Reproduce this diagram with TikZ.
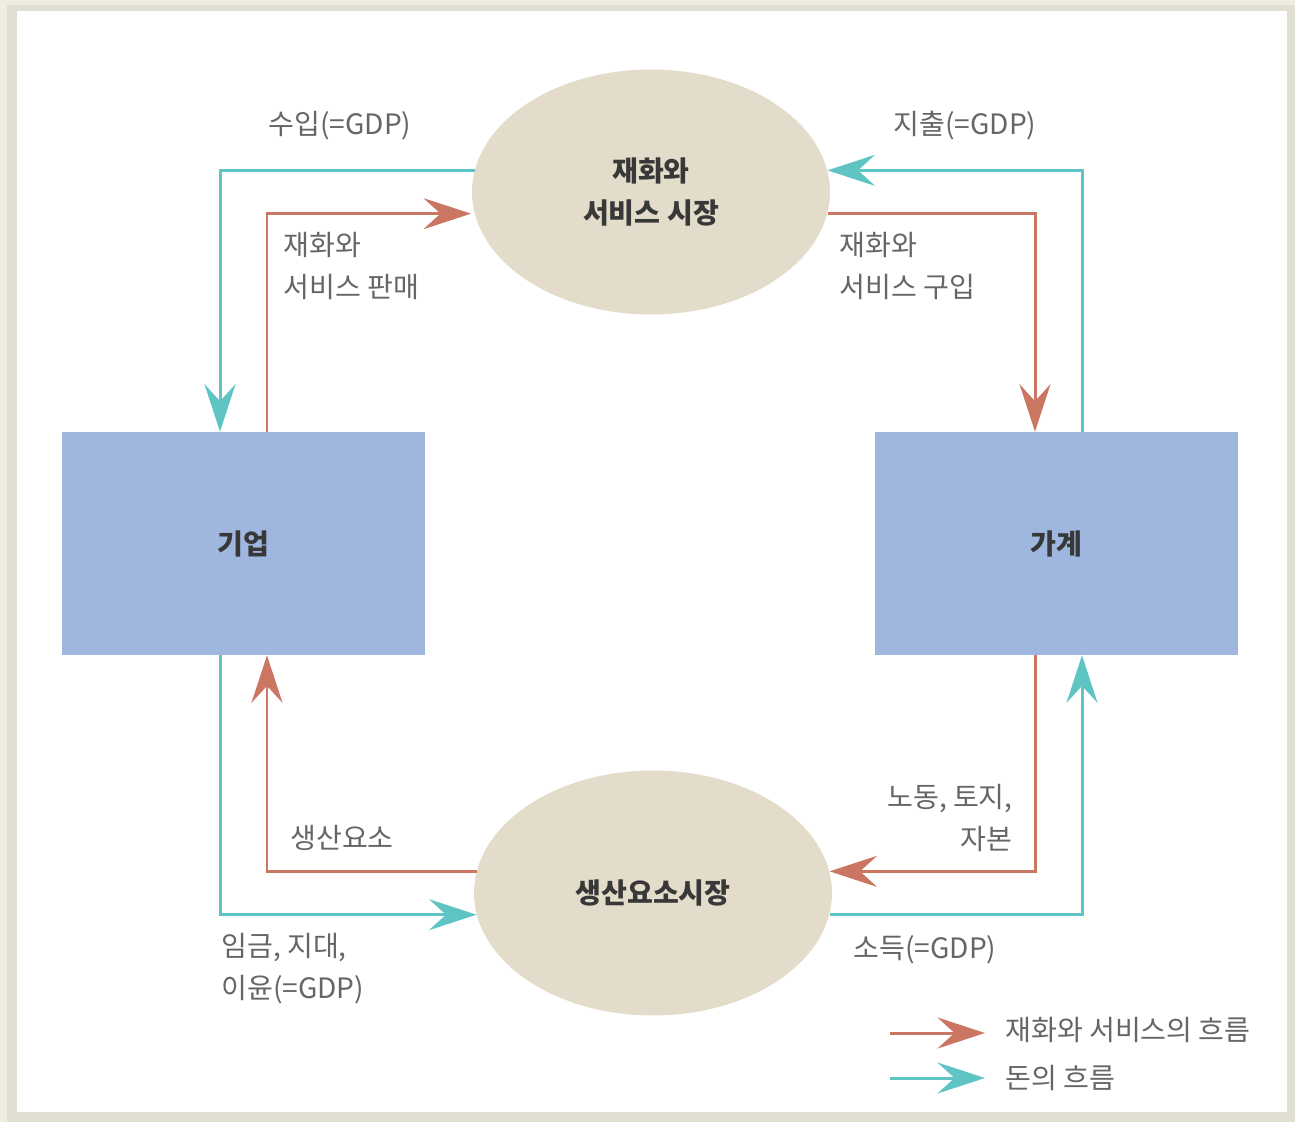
\documentclass[tikz,border=0pt]{standalone}
\usepackage{fontspec}
\setmainfont{Noto Sans CJK KR}
\usetikzlibrary{arrows.meta,shapes.geometric}

\begin{document}
\begin{tikzpicture}[x=0.02cm,y=-0.02cm]

% Colori
\definecolor{colFrame}{HTML}{EFECE2}
\definecolor{colBorder}{HTML}{E0DFD2}
\definecolor{colBox}{HTML}{9FB6DF}
\definecolor{colMkt}{HTML}{E3DCCA}
\definecolor{colGoods}{HTML}{CB7662}
\definecolor{colMoney}{HTML}{5EC4C4}
\definecolor{colLabel}{HTML}{666666}
\definecolor{colTitle}{HTML}{383838}

\tikzset{
  agent/.style={rectangle, fill=colBox, minimum width=7.26cm, minimum height=4.46cm, inner sep=0pt,
    font=\fontsize{16}{22}\selectfont\bfseries, text=colTitle},
  market/.style={ellipse, fill=colMkt, minimum width=7.16cm, minimum height=4.9cm, inner sep=0pt,
    align=center, font=\fontsize{16}{24}\selectfont\bfseries, text=colTitle},
  lbl/.style={inner sep=0pt, font=\fontsize{16}{24}\selectfont, text=colLabel},
  goods/.style={draw=colGoods, line width=1.7pt, -{Stealth[length=0.95cm,width=0.62cm,inset=0.34cm]}},
  money/.style={draw=colMoney, line width=1.7pt, -{Stealth[length=0.95cm,width=0.62cm,inset=0.34cm]}}
}

% Cornice
\useasboundingbox (0,0) rectangle (1295,1122);
\fill[colFrame] (0,0) rectangle (1295,1122);
\fill[colBorder] (7,5) rectangle (1295,1122);
\fill[white] (17,11) rectangle (1287,1112);

% Mercati e operatori
\node[market] (gsm) at (651,192) {재화와\\서비스 시장};
\node[market] (fm) at (653,893) {생산요소시장};
\node[agent] (firm) at (243.5,543.5) {기업};
\node[agent] (hh) at (1056.5,543.5) {가계};

% Flussi in alto
\draw[money] (gsm.173) -| ([xshift=-0.47cm]firm.north);
\draw[goods, shorten >=2pt] ([xshift=0.47cm]firm.north) |- (gsm.187);
\draw[money] ([xshift=0.51cm]hh.north) |- (gsm.7);
\draw[goods] (gsm.-7) -| ([xshift=-0.43cm]hh.north);

% Flussi in basso
\draw[goods] (fm.173) -| ([xshift=0.47cm]firm.south);
\draw[money] ([xshift=-0.47cm]firm.south) |- (fm.187);
\draw[goods] ([xshift=-0.43cm]hh.south) |- (fm.7);
\draw[money] (fm.-7) -| ([xshift=0.51cm]hh.south);

% Etichette
\node[lbl] (lblRev) at (340,126) {수입(=GDP)};
\node[lbl] (lblExp) at (965,126) {지출(=GDP)};
\node[lbl, anchor=west, align=left] (lblSell) at (283,266) {재화와\\서비스 판매};
\node[lbl, anchor=west, align=left] (lblBuy) at (839,266) {재화와\\서비스 구입};
\node[lbl] (lblFactor) at (342,838) {생산요소};
\node[lbl, anchor=east, align=right] (lblLabour) at (1013,818) {노동, 토지,\\자본};
\node[lbl, anchor=west, align=left] (lblWage) at (221,969) {임금, 지대,\\이윤(=GDP)};
\node[lbl] (lblInc) at (925,950) {소득(=GDP)};

% Legenda
\coordinate (legA1) at (890,1033);
\coordinate (legA2) at (985,1033);
\coordinate (legB1) at (890,1078);
\coordinate (legB2) at (985,1078);
\draw[goods] (legA1) -- (legA2);
\draw[money] (legB1) -- (legB2);
\node[lbl, anchor=west] (legGoods) at (1005,1030) {재화와 서비스의 흐름};
\node[lbl, anchor=west] (legMoney) at (1005,1078) {돈의 흐름};

\end{tikzpicture}
\end{document}
